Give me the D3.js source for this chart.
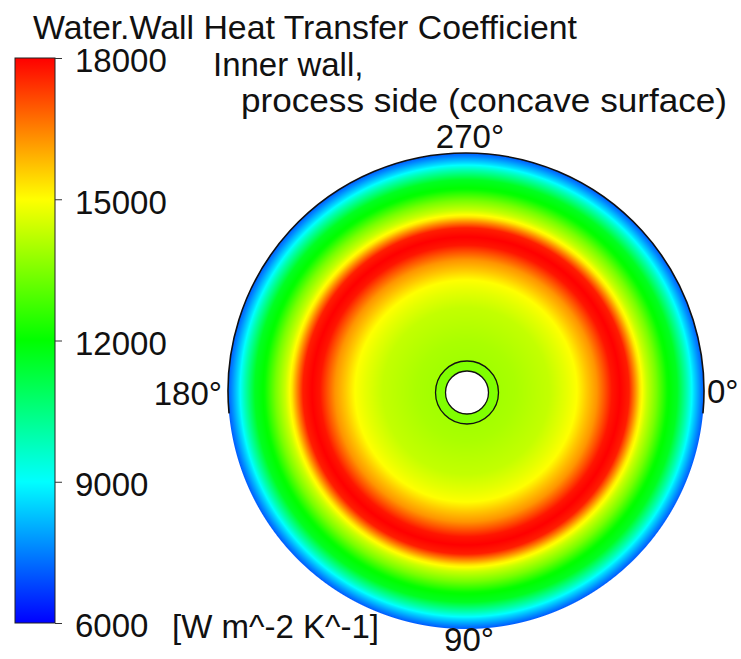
<!DOCTYPE html>
<html>
<head>
<meta charset="utf-8">
<script src="https://cdn.jsdelivr.net/npm/d3@7"></script>
<style>
  html, body { margin: 0; padding: 0; background: #fff; }
  svg { display: block; font-family: "Liberation Sans", Arial, sans-serif; }
</style>
</head>
<body>
<svg id="chart" width="741" height="659"></svg>
<script>
// Colour legend range and ticks (W m^-2 K^-1)
const legendTicks = [6000, 9000, 12000, 15000, 18000];
const legendColors = ["#0000ff", "#00ffff", "#00ff00", "#ffff00", "#ff0000"];

// Radial heat transfer coefficient profile on the inner wall
// (position as a fraction of the outer wall radius)
const radialPosition = [0.13, 0.21, 0.35, 0.42, 0.466, 0.508, 0.55, 0.584, 0.613, 0.647,
                        0.685, 0.71, 0.731, 0.76, 0.80, 0.845, 0.887, 0.929, 0.958, 0.983, 1.0];
const htcValue = [13900, 14000, 14300, 14700, 15000, 15650, 16250, 17050, 17750, 18000,
                  17650, 16400, 15300, 14350, 13400, 12100, 11600, 9900, 8600, 7650, 7050];

// Value on the small collar around the central bore
const collarValue = 13500;

// Angular direction labels
const angleLabels = ["0°", "90°", "180°", "270°"];

const svg = d3.select("#chart");
const FONT = "'Liberation Sans', Arial, sans-serif";

const color = d3.scaleLinear().domain(legendTicks).range(legendColors).clamp(true);

// ---------- Title and annotations ----------
svg.append("text").attr("x", 33).attr("y", 39)
  .attr("font-size", 33).attr("fill", "#111")
  .attr("textLength", 544).attr("lengthAdjust", "spacingAndGlyphs")
  .text("Water.Wall Heat Transfer Coefficient");
svg.append("text").attr("x", 213).attr("y", 76)
  .attr("font-size", 33).attr("fill", "#111").text("Inner wall,");
svg.append("text").attr("x", 241).attr("y", 112)
  .attr("font-size", 33).attr("fill", "#111")
  .attr("textLength", 486).attr("lengthAdjust", "spacingAndGlyphs")
  .text("process side (concave surface)");

// ---------- Colour legend ----------
const barX = 15, barW = 40, barTop = 58, barBottom = 623;
const yLegend = d3.scaleLinear().domain([6000, 18000]).range([barBottom, barTop]);

const defs = svg.append("defs");
const grad = defs.append("linearGradient").attr("id", "legendGrad")
  .attr("x1", 0).attr("y1", 1).attr("x2", 0).attr("y2", 0);
grad.selectAll("stop").data(legendTicks).join("stop")
  .attr("offset", d => (d - 6000) / 12000)
  .attr("stop-color", d => color(d));

svg.append("rect")
  .attr("x", barX).attr("y", barTop).attr("width", barW).attr("height", barBottom - barTop)
  .attr("fill", "url(#legendGrad)").attr("stroke", "#222").attr("stroke-width", 1);

const axis = d3.axisRight(yLegend).tickValues(legendTicks)
  .tickSize(7).tickPadding(13).tickFormat(d => String(d));
const axG = svg.append("g").attr("transform", `translate(${barX + barW},0)`).call(axis);
axG.select(".domain").remove();
axG.selectAll(".tick line").attr("stroke", "#333");
axG.selectAll(".tick text").attr("font-size", 33).attr("fill", "#111")
  .attr("font-family", FONT).attr("dy", "0.42em");

svg.append("text").attr("x", 172).attr("y", 638)
  .attr("font-size", 33).attr("fill", "#111").text("[W m^-2 K^-1]");

// ---------- Contour disc ----------
const cx = 466, cy = 391, R = 238;
const profile = d3.scaleLinear().domain(radialPosition).range(htcValue).clamp(true);

const pad = 2;
const size = 2 * R + 2 * pad;
const canvas = document.createElement("canvas");
canvas.width = size; canvas.height = size;
const ctx = canvas.getContext("2d");
const img = ctx.createImageData(size, size);
for (let j = 0; j < size; j++) {
  for (let i = 0; i < size; i++) {
    const dx = i + 0.5 - (R + pad), dy = j + 0.5 - (R + pad);
    const dist = Math.sqrt(dx * dx + dy * dy);
    const a = Math.max(0, Math.min(1, R - dist + 0.5));
    if (a <= 0) continue;
    const c = d3.rgb(color(profile(dist / R)));
    const k = (j * size + i) * 4;
    img.data[k] = c.r; img.data[k + 1] = c.g; img.data[k + 2] = c.b;
    img.data[k + 3] = Math.round(a * 255);
  }
}
ctx.putImageData(img, 0, 0);
svg.append("image")
  .attr("x", cx - R - pad).attr("y", cy - R - pad)
  .attr("width", size).attr("height", size)
  .attr("href", canvas.toDataURL());

// Outline along the upper part of the wall edge
const edge = d3.path();
edge.arc(cx, cy, R, Math.PI * 0.97, Math.PI * 2.03);
svg.append("path").attr("d", edge.toString())
  .attr("fill", "none").attr("stroke", "#111").attr("stroke-width", 1.6);

// Central bore and collar
const hx = 467, hy = 392.5;
svg.append("circle").attr("cx", hx).attr("cy", hy).attr("r", 31.5)
  .attr("fill", color(collarValue)).attr("stroke", "#111").attr("stroke-width", 1.3);
svg.append("circle").attr("cx", hx).attr("cy", hy).attr("r", 21.5)
  .attr("fill", "#fff").attr("stroke", "#111").attr("stroke-width", 1.3);

// ---------- Direction labels ----------
const labelPos = [
  { x: 707, y: 403, anchor: "start" },
  { x: 469, y: 651, anchor: "middle" },
  { x: 222, y: 405, anchor: "end" },
  { x: 470, y: 148, anchor: "middle" }
];
svg.selectAll("text.dir").data(angleLabels).join("text")
  .attr("class", "dir")
  .attr("x", (d, i) => labelPos[i].x).attr("y", (d, i) => labelPos[i].y)
  .attr("text-anchor", (d, i) => labelPos[i].anchor)
  .attr("font-size", 33).attr("fill", "#111")
  .text(d => d);
</script>
</body>
</html>
